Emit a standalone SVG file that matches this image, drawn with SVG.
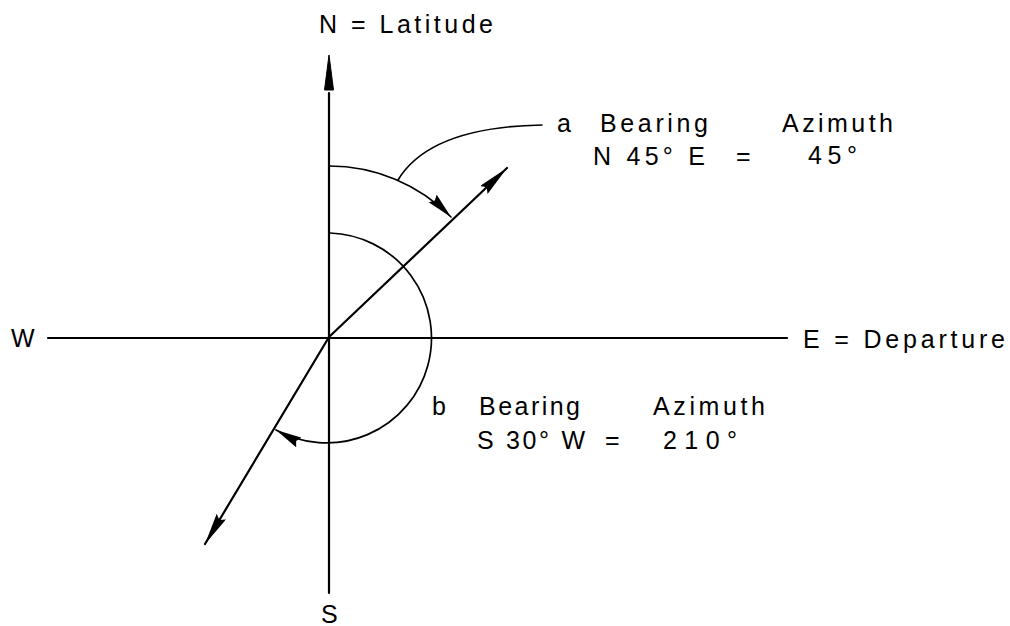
<svg xmlns="http://www.w3.org/2000/svg" width="1010" height="626" viewBox="0 0 1010 626">
<style>
  .ln { fill: none; stroke: #000; stroke-width: 2.2; stroke-linecap: round; }
  .thin { fill: none; stroke: #000; stroke-width: 1.7; stroke-linecap: round; }
  .t { font-family: "Liberation Sans", Arial, sans-serif; font-size: 25px; fill: #000; }
  .head { fill: #000; stroke: #000; stroke-width: 1; stroke-linejoin: round; }
</style>
<defs>
  <marker id="arr" markerUnits="userSpaceOnUse" markerWidth="32" markerHeight="11" viewBox="0 0 32 11" refX="32" refY="5.5" orient="auto">
    <path d="M0,0 L32,5.5 L0,11 L4,5.5 z" fill="#000"/>
  </marker>
  <marker id="arrs" markerUnits="userSpaceOnUse" markerWidth="26" markerHeight="11" viewBox="0 0 26 11" refX="26" refY="5.5" orient="auto">
    <path d="M0,0 L26,5.5 L0,11 L3,5.5 z" fill="#000"/>
  </marker>
</defs>
<rect width="1010" height="626" fill="#fff"/>

<g id="connectors">
  <line id="axis-we" class="ln" x1="48" y1="338" x2="787" y2="338"/>
  <line id="axis-ns" class="ln" x1="329" y1="93" x2="329" y2="593"/>
  <polygon id="north-arrow" class="head" points="329,55 324.5,90 333.5,90"/>
  <line id="line-a" class="ln" x1="329" y1="337" x2="507" y2="168" marker-end="url(#arr)"/>
  <line id="line-b" class="ln" x1="329" y1="337" x2="205" y2="544" marker-end="url(#arr)"/>
  <path id="arc-a" class="thin" d="M329,166 A171,171 0 0 1 451,217" marker-end="url(#arrs)"/>
  <path id="leader-a" class="thin" d="M398,180 Q430,127 542,125"/>
  <path id="arc-b" class="thin" d="M330,233 A105,105 0 1 1 276,430" marker-end="url(#arrs)"/>
</g>

<g id="label-n"><text class="t" x="319" y="33" textLength="174" lengthAdjust="spacing">N = Latitude</text></g>
<g id="label-s"><text class="t" x="321" y="623">S</text></g>
<g id="label-w"><text class="t" x="11" y="347">W</text></g>
<g id="label-e"><text class="t" x="803" y="348" textLength="202" lengthAdjust="spacing">E = Departure</text></g>

<g id="label-a">
  <text class="t" x="557" y="132">a</text>
  <text class="t" x="600" y="132" textLength="108" lengthAdjust="spacing">Bearing</text>
  <text class="t" x="782" y="132" textLength="111" lengthAdjust="spacing">Azimuth</text>
  <text class="t" x="593" y="165" textLength="112" lengthAdjust="spacing">N 45° E</text>
  <text class="t" x="736" y="165">=</text>
  <text class="t" x="808" y="164" textLength="49" lengthAdjust="spacing">45°</text>
</g>

<g id="label-b">
  <text class="t" x="432" y="415">b</text>
  <text class="t" x="479" y="415" textLength="101" lengthAdjust="spacing">Bearing</text>
  <text class="t" x="653" y="415" textLength="112" lengthAdjust="spacing">Azimuth</text>
  <text class="t" x="477" y="449" textLength="108" lengthAdjust="spacing">S 30° W</text>
  <text class="t" x="605" y="449">=</text>
  <text class="t" x="663" y="449" textLength="74" lengthAdjust="spacing">210°</text>
</g>
</svg>
